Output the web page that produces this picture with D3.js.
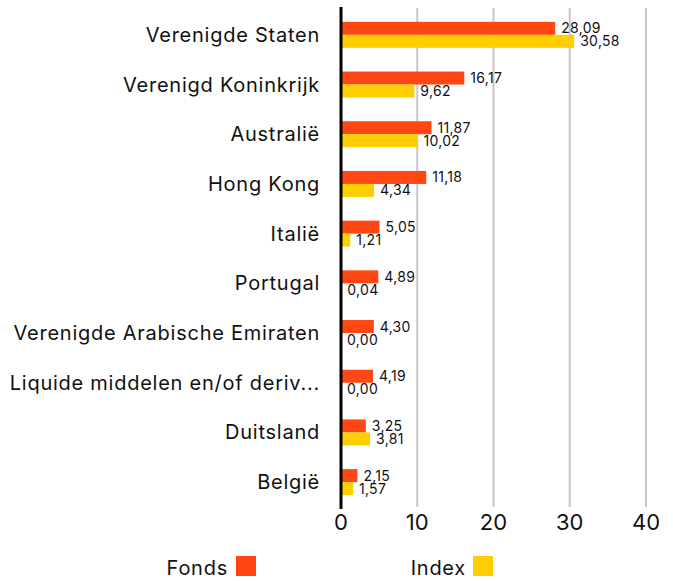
<!DOCTYPE html>
<html>
<head>
<meta charset="utf-8">
<script src="https://cdn.jsdelivr.net/npm/d3@7"></script>
<style>
  body { margin: 0; background: #fff; }
  text { font-family: Inter, "Noto Sans", sans-serif; fill: #111; }
</style>
</head>
<body>
<div id="chart"></div>
<script>
const categories = ['Verenigde Staten', 'Verenigd Koninkrijk', 'Australië', 'Hong Kong', 'Italië',
  'Portugal', 'Verenigde Arabische Emiraten', 'Liquide middelen en/of deriv...', 'Duitsland', 'België']
const fonds = [28.09, 16.17, 11.87, 11.18, 5.05, 4.89, 4.30, 4.19, 3.25, 2.15]
const index = [30.58, 9.62, 10.02, 4.34, 1.21, 0.04, 0.00, 0.00, 3.81, 1.57]
const ticks = [0, 10, 20, 30, 40]
const seriesNames = ['Fonds', 'Index']
const colors = ['#ff4713', '#ffce00']

const width = 673, height = 581
const svg = d3.select('#chart').append('svg')
  .attr('width', width)
  .attr('height', height)

const x = d3.scaleLinear().domain([0, 40]).range([341, 646])
const y = d3.scaleBand().domain(categories).range([10, 507]).paddingInner(0).paddingOuter(0)
const sub = d3.scaleBand().domain(seriesNames).range([0, 26])
const bandOffset = (y.bandwidth() - 26) / 2

// gridlines
svg.append('g')
  .selectAll('line')
  .data(ticks.filter(t => t > 0))
  .enter().append('line')
  .attr('x1', d => x(d)).attr('x2', d => x(d))
  .attr('y1', 8).attr('y2', 507)
  .attr('stroke', '#c8c8c8')
  .attr('stroke-width', 2)

// tick labels
svg.append('g')
  .selectAll('text')
  .data(ticks)
  .enter().append('text')
  .attr('x', d => x(d))
  .attr('y', 530)
  .attr('text-anchor', 'middle')
  .style('font-size', '22px')
  .text(d => d)

const rows = categories.map((c, i) => ({ c, vals: [fonds[i], index[i]] }))

const groups = svg.append('g')
  .selectAll('g')
  .data(rows)
  .enter().append('g')
  .attr('transform', d => `translate(0,${y(d.c) + bandOffset})`)

groups.selectAll('rect')
  .data(d => d.vals.map((v, j) => ({ v, s: seriesNames[j], j })))
  .enter().append('rect')
  .attr('x', x(0))
  .attr('y', d => sub(d.s))
  .attr('width', d => x(d.v) - x(0))
  .attr('height', sub.bandwidth())
  .attr('fill', d => colors[d.j])

groups.selectAll('text.val')
  .data(d => d.vals.map((v, j) => ({ v, s: seriesNames[j], j })))
  .enter().append('text')
  .attr('class', 'val')
  .attr('x', d => x(d.v) + 6)
  .attr('y', d => sub(d.s) + sub.bandwidth() / 2 + 5)
  .style('font-size', '14px')
  .style('letter-spacing', '0.3px')
  .text(d => d.v.toFixed(2).replace('.', ','))

// category labels
svg.append('g')
  .selectAll('text')
  .data(categories)
  .enter().append('text')
  .attr('x', 320)
  .attr('y', d => y(d) + y.bandwidth() / 2 + 7)
  .attr('text-anchor', 'end')
  .style('font-size', '20px')
  .style('letter-spacing', '0.75px')
  .text(d => d)

// zero axis
svg.append('line')
  .attr('x1', x(0)).attr('x2', x(0))
  .attr('y1', 7).attr('y2', 509)
  .attr('stroke', '#000')
  .attr('stroke-width', 3)

// legend
const legendX = [[228, 236], [466, 473]]
const legend = svg.append('g')
seriesNames.forEach((s, i) => {
  legend.append('text')
    .attr('x', legendX[i][0])
    .attr('y', 575)
    .attr('text-anchor', 'end')
    .style('font-size', '20px')
    .style('letter-spacing', '0.75px')
    .text(s)
  legend.append('rect')
    .attr('x', legendX[i][1])
    .attr('y', 556)
    .attr('width', 20)
    .attr('height', 20)
    .attr('fill', colors[i])
})
</script>
</body>
</html>
